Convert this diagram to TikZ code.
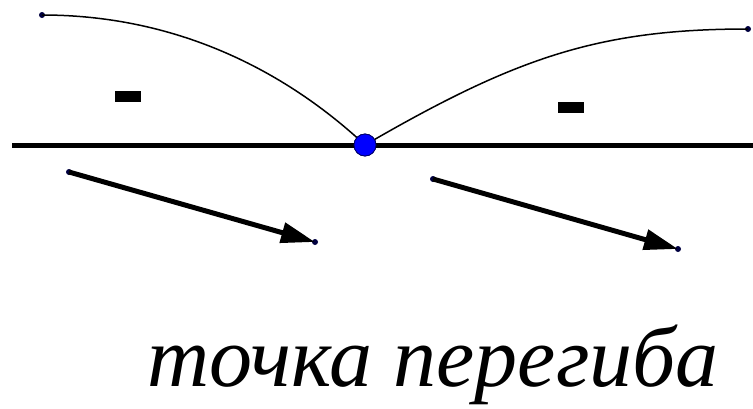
\documentclass[tikz,border=0pt]{standalone}
\usepackage{fontspec}
\setmainfont{Liberation Serif}
\usetikzlibrary{arrows.meta, math}

\begin{document}
\begin{tikzpicture}[x=1pt, y=-1pt,
    end-dot/.style={circle, fill=black!75!blue, inner sep=0pt, minimum size=6pt},
    sign-bar/.style={rectangle, fill=black, inner sep=0pt, minimum width=26pt, minimum height=11pt},
    vec/.style={line width=5pt, -{Triangle[length=34pt, width=20pt]}}]
    \useasboundingbox (0,0) rectangle (753,408);
    \tikzmath{\yAxis = 145; \xInfl = 365;}

    \coordinate (axis-l) at (12,\yAxis);
    \coordinate (axis-r) at (753,\yAxis);
    \node[circle, fill=blue, draw=blue!40!black, line width=0.8pt, minimum size=22pt, inner sep=0pt](infl) at (\xInfl,\yAxis) {};

    \node[end-dot](curve-l) at (42,15) {};
    \node[end-dot](curve-r) at (748,29) {};

    \node[sign-bar](sign-l) at (128,96) {};
    \node[sign-bar](sign-r) at (571,107) {};

    \node[end-dot](vec-l-start) at (69,172) {};
    \node[end-dot](vec-l-end) at (315,242) {};
    \node[end-dot](vec-r-start) at (433,179) {};
    \node[end-dot](vec-r-end) at (678,249) {};

    \node[font=\fontsize{86}{86}\selectfont\itshape, inner sep=0pt, anchor=base](caption) at (433,386) {точка перегиба};

    \draw[line width=5pt] (axis-l) -- (axis-r);
    \draw[line width=1.5pt] (curve-l.center) .. controls (182,15) and (290,75) .. (infl.center);
    \draw[line width=1.5pt] (infl.center) .. controls (515,58) and (598,29) .. (curve-r.center);
    \draw[vec] (vec-l-start.center) -- (vec-l-end.center);
    \draw[vec] (vec-r-start.center) -- (vec-r-end.center);

    \node[circle, fill=blue, draw=blue!40!black, line width=0.8pt, minimum size=22pt, inner sep=0pt] at (infl) {};
\end{tikzpicture}
\end{document}
